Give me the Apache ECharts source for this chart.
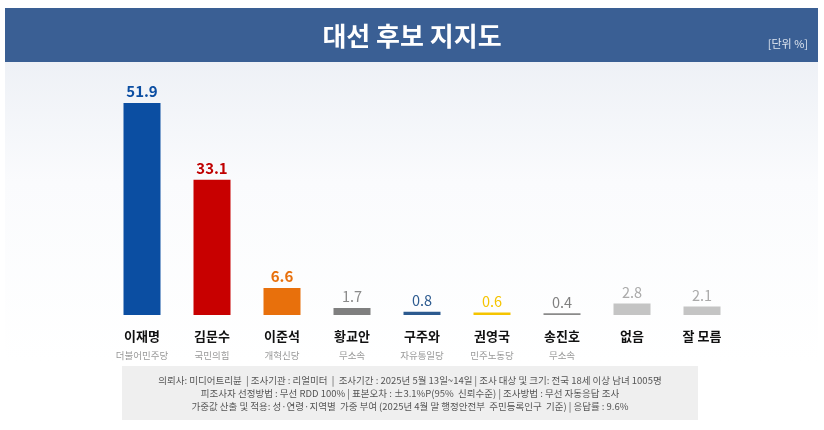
<!DOCTYPE html>
<html><head><meta charset="utf-8">
<script src="https://cdn.jsdelivr.net/npm/echarts@6/dist/echarts.min.js"></script>
<style>html,body{margin:0;padding:0;background:#fff}#c{width:824px;height:430px}</style>
</head><body><div id="c"></div>
<script>
const names = ['이재명','김문수','이준석','황교안','구주와','권영국','송진호','없음','잘 모름'];
const parties = ['더불어민주당','국민의힘','개혁신당','무소속','자유통일당','민주노동당','무소속','',''];
const values = [51.9,33.1,6.6,1.7,0.8,0.6,0.4,2.8,2.1];
const barColors = ['#0b4ea2','#c80000','#e8700c','#7f7f7f','#2c5a8f','#f5c400','#8a8a8a','#c4c4c4','#c4c4c4'];
const labelColors = ['#0b4ea2','#c00000','#e8700c','#8a8a8a','#2c5a8f','#f5c400','#808080','#aaaaaa','#aaaaaa'];
const footer = [
 '의뢰사: 미디어트리뷴  | 조사기관 : 리얼미터  |  조사기간 : 2025년 5월 13일~14일 | 조사 대상 및 크기: 전국 18세 이상 남녀 1005명',
 '피조사자 선정방법 : 무선 RDD 100% | 표본오차 : ±3.1%P(95%  신뢰수준) | 조사방법 : 무선 자동응답 조사',
 '가중값 산출 및 적용: 성·연령·지역별  가중 부여 (2025년 4월 말 행정안전부  주민등록인구  기준) | 응답률 : 9.6%'
];
const F = '"Noto Sans CJK KR","Noto Sans",sans-serif';
const chart = echarts.init(document.getElementById('c'));
chart.setOption({
  backgroundColor: '#fff',
  textStyle: {fontFamily: F},
  graphic: [
    {type:'rect', shape:{x:5,y:62,width:813,height:300}, style:{fill:new echarts.graphic.LinearGradient(0,0,0,1,[{offset:0,color:'#eef1f6'},{offset:0.4,color:'#fafbfd'},{offset:1,color:'#ffffff'}])}, z:-10},
    {type:'rect', shape:{x:5,y:8,width:813,height:54}, style:{fill:'#3a5f94'}},
    {type:'text', x:412, y:36, style:{text:'대선 후보 지지도', fill:'#fff', font:'bold 26px '+F, align:'center', verticalAlign:'middle'}},
    {type:'text', x:808, y:44, style:{text:'[단위 %]', fill:'#dfe6f0', font:'11px '+F, align:'right', verticalAlign:'middle'}},
    {type:'rect', shape:{x:122,y:366,width:576,height:54}, style:{fill:'#efefef'}},
    {type:'text', x:410, y:393, style:{text:footer.join('\n'), fill:'#555', font:'9.5px '+F, lineHeight:13, align:'center', verticalAlign:'middle'}}
  ],
  grid: {left:107, right:87, top:70, bottom:115},
  xAxis: {
    type:'category', data: names,
    axisLine:{show:false}, axisTick:{show:false},
    axisLabel: {
      margin: 10, interval: 0,
      formatter: (v, i) => '{n|' + v + '}\n{p|' + (parties[i] || ' ') + '}',
      rich: {n:{fontSize:13, fontWeight:'bold', color:'#111', lineHeight:22, fontFamily:F},
             p:{fontSize:9.5, color:'#999', lineHeight:16, fontFamily:F}}
    }
  },
  yAxis: {type:'value', min:0, max:60, show:false, splitLine:{show:false}},
  series: [{
    type:'bar', barWidth:37,
    data: values.map((v,i) => ({value:v, itemStyle:{color:barColors[i]},
      label:{color:labelColors[i], fontWeight: i<3 ? 'bold':'normal', fontSize: i<3 ? 15:14.5}})),
    label: {show:true, position:'top', distance:4, fontFamily:F, formatter: p => p.value.toFixed(1)}
  }]
});
</script></body></html>
